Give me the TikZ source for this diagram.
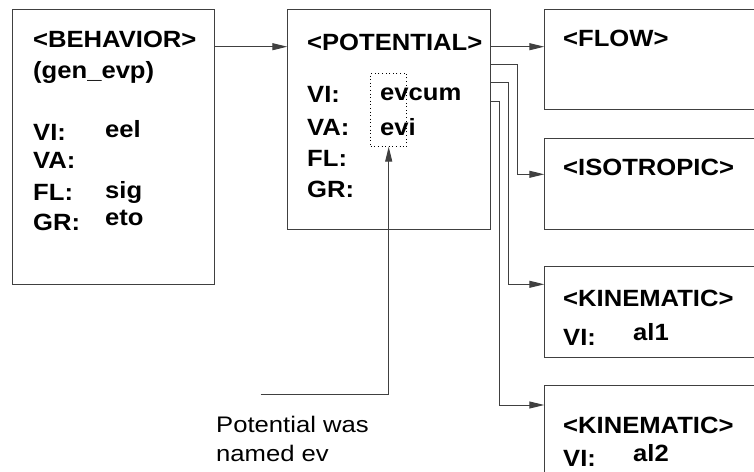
\documentclass[tikz,border=0pt]{standalone}
\usepackage{fontspec}
\setmainfont{Liberation Sans}[FakeStretch=1.14]
\newfontfamily\lblfont{Liberation Sans}[FakeStretch=1.09]
\usetikzlibrary{arrows.meta}
\begin{document}
\begin{tikzpicture}[x=1pt,y=-1pt,
  box/.style={draw=black!75, line width=1pt, rectangle, minimum width=#1, outer sep=0pt, inner sep=0pt},
  lbl/.style={anchor=base west, inner sep=0pt, font=\lblfont\fontsize{23.5}{26}\selectfont\bfseries},
  note/.style={anchor=base west, inner sep=0pt, font=\fontsize{22.5}{26}\selectfont},
  conn/.style={draw=black!75, line width=1pt},
  arr/.style={conn, -{Triangle[length=15pt,width=7pt]}}]
\useasboundingbox (0,0) rectangle (754,471);
\clip (0,0) rectangle (754,471);
% boxes
\node[box=201.6pt, minimum height=275pt] (beh) at (113.5,146.8) {};
\node[box=202.7pt, minimum height=220pt] (pot) at (388.65,119.3) {};
\node[box=245.7pt, minimum height=100pt] (flow) at (667.15,59.3) {};
\node[box=245.7pt, minimum height=91pt] (iso) at (667.15,183.8) {};
\node[box=245.7pt, minimum height=90.6pt] (kin1) at (667.15,312) {};
\node[box=245.7pt, minimum height=95pt] (kin2) at (667.15,432.5) {};
\node[draw=black, line width=0.8pt, dash pattern=on 1pt off 2.6pt, minimum width=36pt, minimum height=73.4pt, inner sep=0pt, outer sep=0pt] (dbox) at (388.7,110) {};
% BEHAVIOR texts
\node[lbl] (t1) at (33,47) {<BEHAVIOR>};
\node[lbl] (t2) at (33,78) {(gen\_evp)};
\node[lbl] (t3) at (33,140) {VI:};
\node[lbl] (t4) at (105,137) {eel};
\node[lbl] (t5) at (33,168) {VA:};
\node[lbl] (t6) at (33,200) {FL:};
\node[lbl] (t7) at (105,198) {sig};
\node[lbl] (t8) at (33,230) {GR:};
\node[lbl] (t9) at (105,225) {eto};
% POTENTIAL texts
\node[lbl] (p1) at (307,50) {<POTENTIAL>};
\node[lbl] (p2) at (307,102) {VI:};
\node[lbl] (p3) at (307,135) {VA:};
\node[lbl] (p4) at (307,166.7) {FL:};
\node[lbl] (p5) at (307,197) {GR:};
\node[lbl] (p6) at (380,100) {evcum};
\node[lbl] (p7) at (380,135) {evi};
% right boxes
\node[lbl] (f1) at (563,46.7) {<FLOW>};
\node[lbl] (i1) at (563,175) {<ISOTROPIC>};
\node[lbl] (k1) at (563,306.7) {<KINEMATIC>};
\node[lbl] (k2) at (563,345) {VI:};
\node[lbl] (k3) at (633,340) {al1};
\node[lbl] (m1) at (563,433.3) {<KINEMATIC>};
\node[lbl] (m2) at (563,466.5) {VI:};
\node[lbl] (m3) at (633,461) {al2};
% note
\node[note] (n1) at (216,432) {Potential was};
\node[note] (n2) at (216,461) {named ev};
% connectors
\coordinate (y1) at (0,46.7);
\coordinate (y2) at (0,64);
\coordinate (y3) at (0,82.3);
\coordinate (y4) at (0,101);
\coordinate (free) at (260.7,394.3);
\draw[arr] (beh.east |- y1) -- (pot.west |- y1);
\draw[arr] (pot.east |- y1) -- (flow.west |- y1);
\draw[arr] (pot.east |- y2) -- (517,64) |- (iso.west |- 0,174.3);
\draw[arr] (pot.east |- y3) -- (508.3,82.3) |- (kin1.west |- 0,284.3);
\draw[arr] (pot.east |- y4) -- (499,101) |- (kin2.west |- 0,405);
\draw[arr] (free) -| (dbox.south);
\end{tikzpicture}
\end{document}
